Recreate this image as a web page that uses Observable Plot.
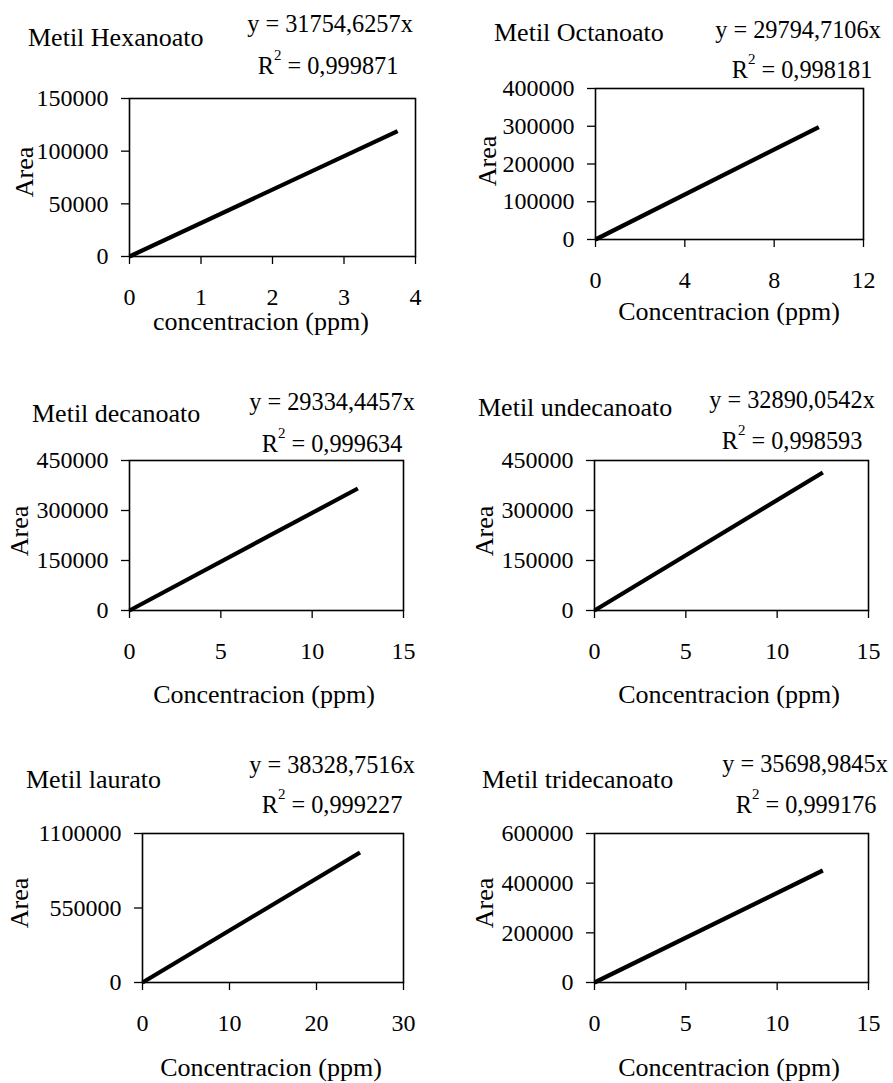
<!DOCTYPE html>
<html><head><meta charset="utf-8">
<script src="https://cdn.jsdelivr.net/npm/d3@7"></script>
<script src="https://cdn.jsdelivr.net/npm/@observablehq/plot@0.6"></script>
<style>
html,body{margin:0;padding:0;background:#fff;}
#chart{position:relative;width:893px;height:1083px;overflow:hidden;background:#fff;}
#chart svg{position:absolute;}
</style></head><body><div id="chart"></div>
<script>
// ---- data ----
const compounds = ["Metil Hexanoato","Metil Octanoato","Metil decanoato","Metil undecanoato","Metil laurato","Metil tridecanoato"];
const slopes = ["31754,6257","29794,7106","29334,4457","32890,0542","38328,7516","35698,9845"];
const r2Values = ["0,999871","0,998181","0,999634","0,998593","0,999227","0,999176"];
const xLabels = ["concentracion (ppm)","Concentracion (ppm)","Concentracion (ppm)","Concentracion (ppm)","Concentracion (ppm)","Concentracion (ppm)"];
const yLabel = "Area";
const concStart = [0,0,0,0,0,0];
const areaStart = [0,0,0,0,0,0];
const concEnd = [3.75,10,12.5,12.5,25,12.5];
const areaEnd = [119000,298000,366000,414000,960000,451000];
const xTicks = [[0,1,2,3,4],[0,4,8,12],[0,5,10,15],[0,5,10,15],[0,10,20,30],[0,5,10,15]];
const yTicks = [[0,50000,100000,150000],[0,100000,200000,300000,400000],[0,150000,300000,450000],[0,150000,300000,450000],[0,550000,1100000],[0,200000,400000,600000]];

// ---- layout (page pixels) ----
const FONT = "'Liberation Serif','Times New Roman',Times,serif";
const TICK_FS = 24, TITLE_FS = 26, LABEL_FS = 26, EQ_FS = 24.3;
const cells = [[0,0,446,365],[446,0,447,365],[0,365,446,363],[446,365,447,363],[0,728,446,355],[446,728,447,355]];
const frames = [[129,415,98,256],[595,863,88,239],[129,403,460,610],[594,868,460,610],[142,403,833,982],[594,868,833,982]];
const titlePos = [[28,46],[494,41],[32,422],[478,416],[26,788],[482,788]];
const eqPos = [[330,32],[798,38],[332,410],[792,408],[332,773],[805,772]];
const r2Pos = [[328,74],[802,78],[332,452],[792,449],[332,813],[806,813]];
const xlabPos = [[261,330],[729,320],[264,703],[729,703],[271,1076],[729,1076]];
const ylabPos = [[33,172],[496,161],[28,531],[493,531],[28,903],[493,903]];

const chart = document.getElementById("chart");

compounds.forEach((name, i) => {
  const [cx, cy, cw, ch] = cells[i];
  const [fl, fr, ft, fb] = frames[i];
  const pts = [{c: concStart[i], a: areaStart[i]}, {c: concEnd[i], a: areaEnd[i]}];
  const xd = [xTicks[i][0], xTicks[i][xTicks[i].length-1]];
  const yd = [yTicks[i][0], yTicks[i][yTicks[i].length-1]];
  const p = Plot.plot({
    width: cw, height: ch,
    marginLeft: fl - cx, marginRight: cx + cw - fr,
    marginTop: ft - cy, marginBottom: cy + ch - fb,
    style: {fontFamily: FONT, fontSize: TICK_FS + "px", color: "black", background: "transparent", overflow: "visible"},
    x: {domain: xd, label: null},
    y: {domain: yd, label: null},
    marks: [
      Plot.axisX({ticks: xTicks[i], tickSize: 8, tickPadding: 23, fontSize: TICK_FS, tickFormat: d => String(d), strokeWidth: 1.3, label: null}),
      Plot.axisY({ticks: yTicks[i], tickSize: 8, tickPadding: 13, fontSize: TICK_FS, tickFormat: d => String(d), strokeWidth: 1.3, label: null}),
      Plot.line(pts, {x: "c", y: "a", stroke: "black", strokeWidth: 4.2, strokeLinecap: "butt"}),
      Plot.frame({stroke: "black", strokeWidth: 1.6})
    ]
  });
  p.style.left = cx + "px";
  p.style.top = cy + "px";
  chart.appendChild(p);
});

// ---- text overlay ----
const ov = d3.select(chart).append("svg")
  .attr("width", 893).attr("height", 1083)
  .style("left", "0px").style("top", "0px")
  .attr("font-family", FONT).attr("fill", "black");

compounds.forEach((name, i) => {
  ov.append("text").attr("x", titlePos[i][0]).attr("y", titlePos[i][1]).attr("font-size", TITLE_FS).text(name);
  ov.append("text").attr("x", eqPos[i][0]).attr("y", eqPos[i][1]).attr("font-size", EQ_FS).attr("text-anchor", "middle").text("y = " + slopes[i] + "x");
  const t = ov.append("text").attr("x", r2Pos[i][0]).attr("y", r2Pos[i][1]).attr("font-size", EQ_FS).attr("text-anchor", "middle");
  t.append("tspan").text("R");
  t.append("tspan").attr("dy", -14).attr("font-size", 15).text("2");
  t.append("tspan").attr("dy", 14).text(" = " + r2Values[i]);
  ov.append("text").attr("x", xlabPos[i][0]).attr("y", xlabPos[i][1]).attr("font-size", LABEL_FS).attr("text-anchor", "middle").text(xLabels[i]);
  ov.append("text").attr("transform", `translate(${ylabPos[i][0]},${ylabPos[i][1]}) rotate(-90)`).attr("font-size", LABEL_FS).attr("text-anchor", "middle").text(yLabel);
});
</script></body></html>
